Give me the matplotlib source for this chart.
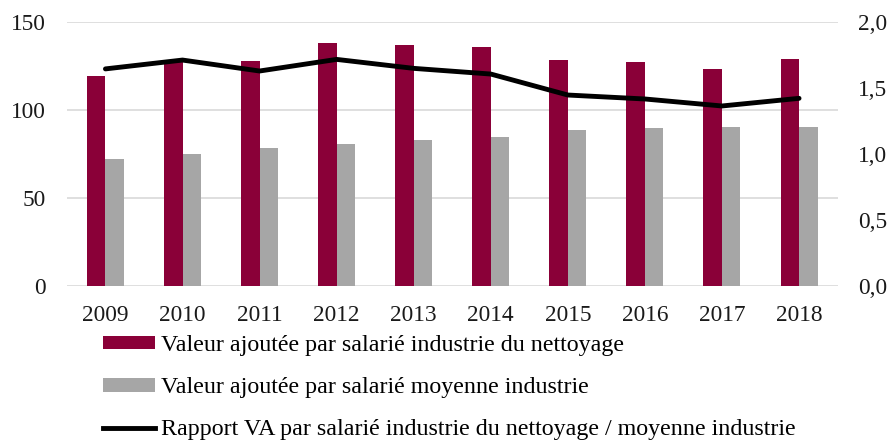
import matplotlib.pyplot as plt
import numpy as np
from matplotlib.lines import Line2D
from matplotlib.patches import Patch

years = ["2009", "2010", "2011", "2012", "2013", "2014", "2015", "2016", "2017", "2018"]
va_nettoyage = [119.1, 127.5, 127.7, 138.1, 136.9, 135.6, 128.4, 127.1, 123.1, 129.0]
va_moyenne = [72.2, 74.8, 78.6, 80.5, 83.0, 84.8, 88.6, 89.6, 90.2, 90.3]
rapport = [1.645, 1.712, 1.629, 1.717, 1.649, 1.606, 1.447, 1.417, 1.364, 1.422]

labels = [
    "Valeur ajoutée par salarié industrie du nettoyage",
    "Valeur ajoutée par salarié moyenne industrie",
    "Rapport VA par salarié industrie du nettoyage / moyenne industrie",
]

RED = "#8a0038"
GREY = "#a6a6a6"
GRID = "#d9d9d9"

plt.rcParams["font.family"] = ["Liberation Serif", "DejaVu Serif"]

fig = plt.figure(figsize=(8.92, 4.41), dpi=100)
ax = fig.add_axes([0.075, 0.3515, 0.864, 0.5985])
ax2 = ax.twinx()

x = np.arange(len(years))
w = 0.24
ax.bar(x - w / 2, va_nettoyage, width=w, color=RED, zorder=2)
ax.bar(x + w / 2, va_moyenne, width=w, color=GREY, zorder=2)
ax2.plot(x, rapport, color="black", lw=3.5, solid_capstyle="round", zorder=3)

ax.set_xlim(-0.5, len(years) - 0.5)
ax.set_ylim(0, 150)
ax.set_yticks([0, 50, 100, 150])
ax2.set_ylim(0, 2.0)
ax2.set_yticks([0, 0.5, 1.0, 1.5, 2.0])
ax2.set_yticklabels([f"{v:.1f}".replace(".", ",") for v in [0, 0.5, 1.0, 1.5, 2.0]])

ax.set_xticks(x)
ax.set_xticklabels(years)
ax.yaxis.grid(True, color=GRID, lw=1.2, zorder=0)
ax.set_axisbelow(True)

for a in (ax, ax2):
    for s in a.spines.values():
        s.set_visible(False)
    a.tick_params(length=0, labelsize=16.8, colors="#1a1a1a")
ax.tick_params(axis="y", pad=15)
ax.tick_params(axis="x", pad=14)
ax2.tick_params(axis="y", pad=15)

handles = [
    Patch(facecolor=RED, edgecolor="none"),
    Patch(facecolor=GREY, edgecolor="none"),
    Line2D([0], [0], color="black", lw=3.5),
]
fig.legend(
    handles, labels, loc="upper left", bbox_to_anchor=(0.116, 0.24),
    frameon=False, fontsize=17.3, handlelength=2.15, handleheight=0.5,
    handletextpad=0.25, labelspacing=0.88, borderaxespad=0, borderpad=0,
)

fig.savefig("out.png", dpi=100)
